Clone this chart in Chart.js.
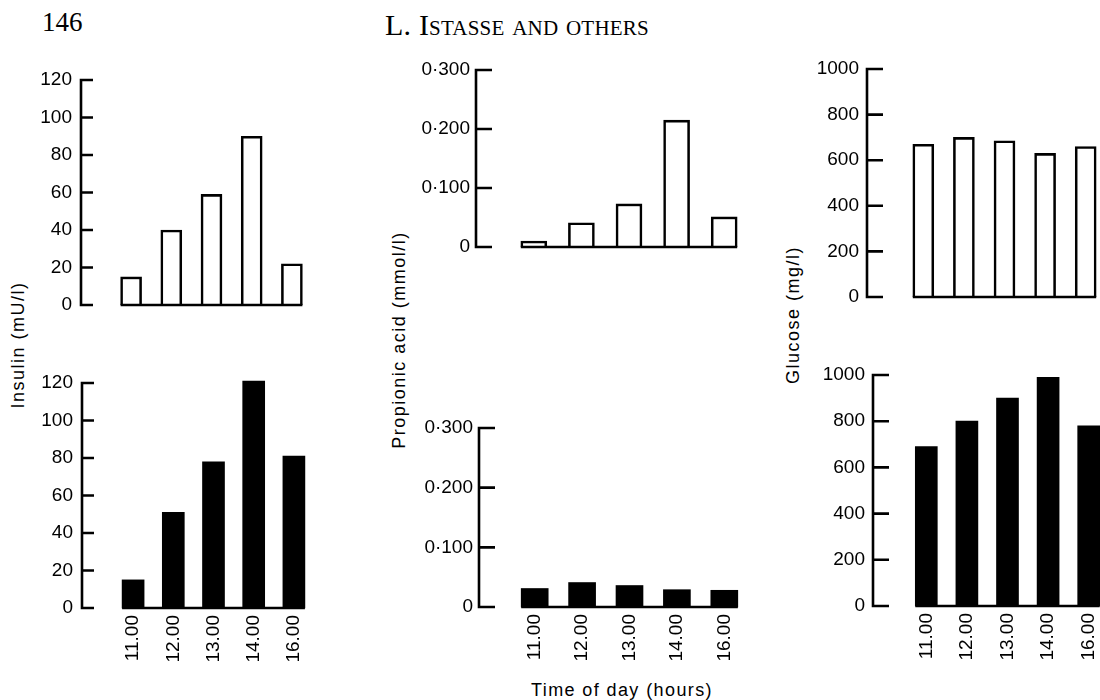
<!DOCTYPE html>
<html>
<head>
<meta charset="utf-8">
<script src="https://cdn.jsdelivr.net/npm/chart.js@4.4.0/dist/chart.umd.min.js"></script>
<style>
  html, body { margin: 0; padding: 0; background: #fff; }
  body { position: relative; width: 1100px; height: 700px; overflow: hidden; }
  canvas { position: absolute; }
  .txt { position: absolute; color: #000; white-space: nowrap; font-family: "Liberation Sans", Arial, sans-serif; }
  .serif { font-family: "Liberation Serif", "Times New Roman", serif; }
  .ytitle { font-size: 18px; letter-spacing: 1.5px; transform: translate(-50%, -50%) rotate(-90deg); }
</style>
</head>
<body>
<div class="txt serif" style="left:42px;top:9px;font-size:27px;line-height:27px">146</div>
<div class="txt serif" style="left:385px;top:10px;font-size:30px;line-height:30px;font-variant:small-caps;letter-spacing:0.2px">L. Istasse and others</div>
<div class="txt ytitle" style="left:18px;top:345px">Insulin (mU/l)</div>
<div class="txt ytitle" style="left:399px;top:340px">Propionic acid (mmol/l)</div>
<div class="txt ytitle" style="left:793px;top:315px">Glucose (mg/l)</div>
<div class="txt" style="left:622px;top:680px;font-size:18px;letter-spacing:1.4px;transform:translateX(-50%)">Time of day (hours)</div>

<canvas id="c0"></canvas>
<canvas id="c1"></canvas>
<canvas id="c2"></canvas>
<canvas id="c3"></canvas>
<canvas id="c4"></canvas>
<canvas id="c5"></canvas>

<script>
const hours = ["11.00", "12.00", "13.00", "14.00", "16.00"];

// open bars = upper panels, solid bars = lower panels
const insulinOpen = [15, 40, 59, 90, 22];
const insulinSolid = [15, 51, 78, 121, 81];
const propionicOpen = [0.010, 0.041, 0.073, 0.215, 0.051];
const propionicSolid = [0.031, 0.041, 0.036, 0.029, 0.028];
const glucoseOpen = [670, 700, 685, 630, 660];
const glucoseSolid = [690, 800, 900, 990, 780];

const insulinTicks = [0, 20, 40, 60, 80, 100, 120];
const insulinTickLabels = ["0", "20", "40", "60", "80", "100", "120"];
const propionicTicks = [0, 0.1, 0.2, 0.3];
const propionicTickLabels = ["0", "0·100", "0·200", "0·300"];
const glucoseTicks = [0, 200, 400, 600, 800, 1000];
const glucoseTickLabels = ["0", "200", "400", "600", "800", "1000"];

const FONT = '"Liberation Sans", Arial, sans-serif';

// axis line with inward ticks, plus the baseline under the bars
const paperAxis = {
  id: "paperAxis",
  afterDatasetsDraw(chart, args, opts) {
    const y = chart.scales.y;
    const ctx = chart.ctx;
    const z = y.getPixelForValue(0);
    const bars = chart.getDatasetMeta(0).data;
    const first = bars[0], last = bars[bars.length - 1];
    ctx.save();
    ctx.strokeStyle = "#000";
    ctx.lineWidth = 2.6;
    ctx.beginPath();
    ctx.moveTo(opts.axisX, y.getPixelForValue(y.max) - 1.3);
    ctx.lineTo(opts.axisX, z + 1.3);
    y.ticks.forEach(t => {
      const py = y.getPixelForValue(t.value);
      ctx.moveTo(opts.axisX, py);
      ctx.lineTo(opts.axisX + opts.tickLen, py);
    });
    ctx.moveTo(first.x - first.width / 2, z);
    ctx.lineTo(last.x + last.width / 2, z);
    ctx.stroke();
    ctx.restore();
  }
};

const panels = [
  { id: "c0", values: insulinOpen, solid: false, ticks: insulinTicks, tickLabels: insulinTickLabels,
    axisX: 81, left: 111, right: 312, top: 80, zero: 305, gap: 9, tickLen: 12, bar: 21, xLabels: false },
  { id: "c1", values: insulinSolid, solid: true, ticks: insulinTicks, tickLabels: insulinTickLabels,
    axisX: 82, left: 113, right: 314, top: 383, zero: 608, gap: 9, tickLen: 12, bar: 22, xLabels: true },
  { id: "c2", values: propionicOpen, solid: false, ticks: propionicTicks, tickLabels: propionicTickLabels,
    axisX: 476, left: 510, right: 748, top: 70, zero: 247, gap: 6, tickLen: 16, bar: 26, xLabels: false },
  { id: "c3", values: propionicSolid, solid: true, ticks: propionicTicks, tickLabels: propionicTickLabels,
    axisX: 479, left: 511, right: 748, top: 428, zero: 607, gap: 6, tickLen: 16, bar: 27, xLabels: true },
  { id: "c4", values: glucoseOpen, solid: false, ticks: glucoseTicks, tickLabels: glucoseTickLabels,
    axisX: 867, left: 903, right: 1106, top: 69, zero: 297, gap: 8, tickLen: 16, bar: 21, xLabels: false },
  { id: "c5", values: glucoseSolid, solid: true, ticks: glucoseTicks, tickLabels: glucoseTickLabels,
    axisX: 873, left: 906, right: 1109, top: 375, zero: 606, gap: 8, tickLen: 16, bar: 22, xLabels: true }
];

panels.forEach(p => {
  const canvas = document.getElementById(p.id);
  const cl = p.axisX - 72;
  const ct = p.top - 15;
  const padBottom = p.xLabels ? 0 : 5;
  const xH = p.xLabels ? 70 : 0;
  canvas.width = p.right - cl;
  canvas.height = p.zero - ct + xH + padBottom;
  canvas.style.left = cl + "px";
  canvas.style.top = ct + "px";

  new Chart(canvas.getContext("2d"), {
    type: "bar",
    data: {
      labels: hours,
      datasets: [{
        data: p.values,
        backgroundColor: p.solid ? "#000" : "#fff",
        borderColor: "#000",
        borderWidth: p.solid ? 0 : 2.6,
        borderSkipped: "bottom",
        barThickness: p.bar,
        clip: false
      }]
    },
    options: {
      responsive: false,
      animation: false,
      events: [],
      layout: { padding: { top: 15, bottom: padBottom, left: 0, right: 0 } },
      plugins: {
        legend: { display: false },
        tooltip: { enabled: false },
        paperAxis: { axisX: p.axisX - cl, tickLen: p.tickLen }
      },
      scales: {
        x: {
          display: p.xLabels,
          offset: true,
          grid: { display: false, drawTicks: false },
          border: { display: false },
          ticks: {
            color: "#000",
            font: { family: FONT, size: 19 },
            minRotation: 90,
            maxRotation: 90,
            autoSkip: false,
            padding: 7
          },
          afterFit: s => { s.height = xH; s.paddingLeft = 0; s.paddingRight = 0; }
        },
        y: {
          min: 0,
          max: p.ticks[p.ticks.length - 1],
          grid: { display: false, drawTicks: false },
          border: { display: false },
          afterBuildTicks: s => { s.ticks = p.ticks.map(v => ({ value: v })); },
          ticks: {
            color: "#000",
            font: { family: FONT, size: 19 },
            padding: p.left - (p.axisX - p.gap),
            callback: (v, i) => p.tickLabels[i]
          },
          // the wide label gap must not eat vertical room
          afterFit: s => { s.width = p.left - cl; s.paddingTop = 0; s.paddingBottom = 0; }
        }
      }
    },
    plugins: [paperAxis]
  });
});
</script>
</body>
</html>
